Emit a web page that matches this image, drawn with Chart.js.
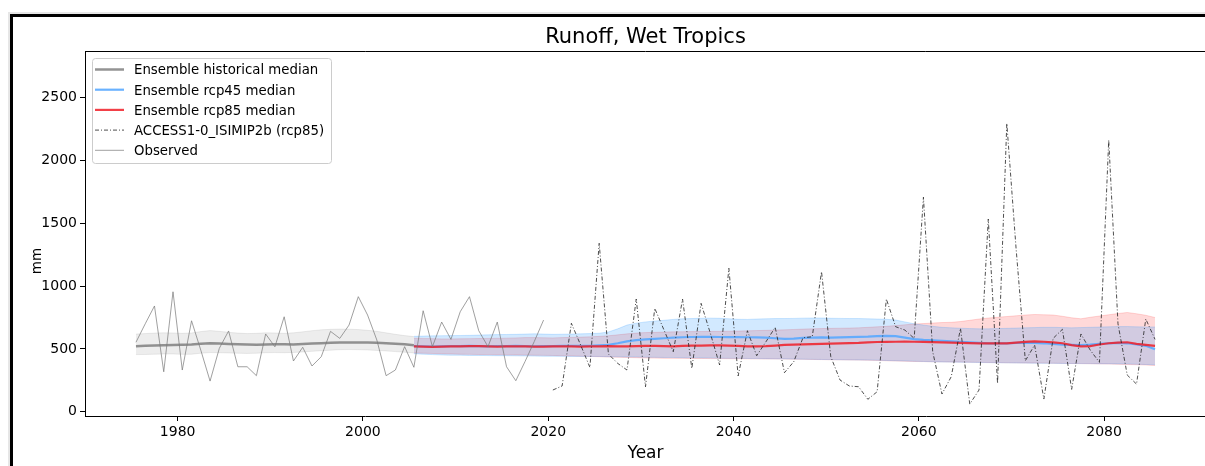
<!DOCTYPE html>
<html>
<head>
<meta charset="utf-8">
<title>Runoff, Wet Tropics</title>
<script src="https://cdn.jsdelivr.net/npm/chart.js@4.4.0/dist/chart.umd.min.js"></script>
<style>
    html, body { margin: 0; padding: 0; overflow: hidden; background: #fff; }
    canvas { display: block; }
</style>
</head>
<body>
<canvas id="runoffChart" width="1206" height="466"></canvas>
<script>
const FONT = '"DejaVu Sans", sans-serif';

// años (totales anuales, se dibujan a mitad de año)
const obsStart = 1975;
const histStart = 1975;
const rcpStart = 2005;
const accessStart = 2020;

const xTicks = [1980, 2000, 2020, 2040, 2060, 2080];
const yTicks = [0, 500, 1000, 1500, 2000, 2500];

// escorrentía observada (mm)
const observed = [
    553, 700, 842, 318, 955, 332, 724, 490, 244, 505,
    643, 358, 358, 287, 619, 517, 756, 404, 513, 364,
    438, 640, 584, 690, 916, 770, 571, 287, 332, 518,
    354, 804, 518, 714, 576, 796, 916, 645, 518, 714,
    358, 247, 400, 560, 730
];

// ensemble histórico
const histMedian = [
    522, 525, 528, 530, 532, 533, 535, 542, 546, 544,
    540, 537, 535, 534, 536, 538, 537, 536, 539, 543,
    546, 549, 551, 552, 552, 551, 549, 546, 542, 537, 530
];
const histUpper = [
    618, 622, 626, 628, 627, 624, 627, 638, 646, 640,
    632, 626, 622, 624, 628, 627, 624, 628, 636, 645,
    652, 656, 658, 657, 654, 648, 640, 628, 616, 606, 598
];
const histLower = [
    455, 456, 458, 460, 460, 457, 458, 466, 471, 470,
    468, 466, 464, 466, 470, 471, 470, 472, 476, 481,
    486, 490, 494, 495, 494, 492, 488, 484, 479, 474, 468
];

// ensemble rcp45
const rcp45Median = [
    522, 520, 518, 520, 522, 523, 524, 522, 521, 522,
    523, 524, 522, 521, 522, 523, 524, 525, 524, 525,
    528, 532, 545, 560, 570, 576, 580, 585, 590, 593,
    595, 596, 596, 595, 594, 594, 593, 592, 590, 585,
    580, 582, 588, 590, 592, 590, 592, 594, 596, 598,
    602, 604, 602, 590, 578, 572, 568, 565, 560, 556,
    552, 548, 545, 544, 545, 548, 550, 548, 545, 540,
    535, 532, 530, 534, 540, 545, 548, 545, 535, 525, 497
];
const rcp45Upper = [
    600, 602, 604, 605, 606, 607, 608, 610, 612, 614,
    615, 616, 618, 620, 618, 616, 617, 618, 620, 622,
    625, 635, 660, 690, 705, 715, 722, 728, 735, 740,
    742, 744, 745, 744, 740, 736, 735, 738, 740, 742,
    742, 743, 745, 746, 746, 744, 743, 742, 742, 740,
    738, 736, 730, 715, 700, 690, 680, 672, 668, 665,
    662, 660, 660, 662, 664, 666, 668, 670, 672, 672,
    670, 668, 670, 672, 674, 676, 678, 678, 676, 675, 675
];
const rcp45Lower = [
    462, 458, 455, 452, 450, 450, 448, 448, 447, 446,
    446, 445, 444, 443, 442, 442, 441, 440, 440, 440,
    440, 438, 437, 436, 435, 434, 433, 432, 432, 430,
    429, 428, 427, 426, 425, 425, 424, 423, 422, 421,
    420, 419, 418, 417, 416, 415, 414, 413, 412, 411,
    410, 408, 406, 404, 402, 400, 398, 396, 395, 394,
    393, 392, 391, 390, 389, 388, 387, 386, 385, 385,
    384, 384, 383, 383, 382, 382, 381, 380, 378, 376, 374
];

// ensemble rcp85
const rcp85Median = [
    520, 518, 516, 518, 520, 521, 522, 522, 520, 519,
    520, 521, 520, 518, 519, 520, 521, 520, 518, 520,
    521, 522, 520, 521, 523, 524, 524, 522, 521, 524,
    526, 527, 528, 528, 527, 524, 521, 520, 522, 527,
    532, 534, 536, 538, 540, 542, 544, 546, 548, 552,
    555, 556, 557, 558, 557, 556, 554, 552, 550, 548,
    546, 545, 544, 544, 545, 550, 556, 560, 557, 552,
    545, 530, 520, 522, 535, 545, 550, 553, 540, 532, 525
];
const rcp85Upper = [
    585, 584, 582, 580, 580, 581, 582, 583, 584, 585,
    586, 588, 590, 590, 589, 588, 590, 592, 594, 596,
    600, 605, 612, 620, 626, 630, 632, 634, 636, 637,
    638, 639, 640, 640, 641, 642, 644, 646, 648, 650,
    652, 655, 658, 660, 662, 664, 665, 666, 668, 672,
    676, 680, 686, 692, 698, 702, 706, 710, 712, 718,
    728, 738, 746, 752, 758, 764, 770, 774, 772, 770,
    760, 748, 740, 752, 762, 772, 782, 790, 780, 768, 750
];
const rcp85Lower = [
    468, 466, 464, 462, 460, 458, 457, 456, 455, 454,
    453, 452, 451, 450, 449, 448, 446, 444, 442, 440,
    438, 436, 434, 432, 430, 428, 427, 426, 425, 425,
    424, 424, 423, 423, 422, 422, 421, 421, 420, 420,
    419, 418, 417, 416, 415, 414, 413, 412, 411, 410,
    408, 406, 404, 402, 400, 399, 398, 397, 396, 395,
    394, 393, 392, 391, 390, 389, 388, 388, 387, 386,
    385, 384, 383, 382, 381, 380, 378, 376, 374, 372, 368
];

// ACCESS1-0_ISIMIP2b (rcp85)
const accessRcp85 = [
    173, 205, 704, 531, 353, 1341, 459, 385, 332, 897,
    199, 823, 650, 478, 897, 345, 863, 624, 372, 1142,
    285, 645, 446, 557, 672, 311, 398, 589, 597, 1115,
    438, 252, 205, 199, 99, 159, 897, 677, 650, 584,
    1708, 478, 141, 279, 664, 61, 173, 1534, 226, 2296,
    1300, 406, 531, 101, 584, 656, 178, 619, 491, 393,
    2163, 700, 292, 220, 738, 576
];

// convierte una serie anual en puntos {x, y} a mitad de año
function serie(inicio, valores) {
    return valores.map((v, i) => ({ x: inicio + i + 0.5, y: v }));
}

function linea(label, inicio, valores, color, ancho, orden, extra) {
    return Object.assign({
        label: label,
        data: serie(inicio, valores),
        borderColor: color,
        backgroundColor: color,
        borderWidth: ancho,
        pointRadius: 0,
        tension: 0,
        fill: false,
        order: orden
    }, extra || {});
}

// banda entre percentiles: el borde superior rellena hasta el siguiente dataset
function banda(inicio, valores, color, orden, rellenar) {
    return {
        label: '',
        data: serie(inicio, valores),
        borderColor: color,
        backgroundColor: color,
        borderWidth: 1,
        pointRadius: 0,
        tension: 0,
        fill: rellenar ? '+1' : false,
        order: orden
    };
}

// orden mayor = se dibuja antes (queda debajo)
const datasets = [
    linea('Ensemble historical median', histStart, histMedian, 'rgba(128,128,128,0.85)', 2.5, 5),
    linea('Ensemble rcp45 median', rcpStart, rcp45Median, 'rgba(90,170,255,0.9)', 2.2, 4),
    linea('Ensemble rcp85 median', rcpStart, rcp85Median, 'rgba(240,30,40,0.85)', 2.2, 3),
    linea('ACCESS1-0_ISIMIP2b (rcp85)', accessStart, accessRcp85, '#222222', 0.8, 1, { borderDash: [4, 2, 1, 2] }),
    linea('Observed', obsStart, observed, 'rgba(120,120,120,0.7)', 1, 2),
    banda(histStart, histUpper, 'rgba(128,128,128,0.14)', 10, true),
    banda(histStart, histLower, 'rgba(128,128,128,0.14)', 10, false),
    banda(rcpStart, rcp45Upper, 'rgba(30,144,255,0.2)', 8, true),
    banda(rcpStart, rcp45Lower, 'rgba(30,144,255,0.2)', 8, false),
    banda(rcpStart, rcp85Upper, 'rgba(255,0,0,0.15)', 9, true),
    banda(rcpStart, rcp85Lower, 'rgba(255,0,0,0.15)', 9, false)
];

// marco exterior de la figura, borde superior de los ejes y textos
const marcoPlugin = {
    id: 'marco',
    beforeDraw(chart) {
        const ctx = chart.ctx;
        ctx.save();
        ctx.fillStyle = '#e6e6e6';
        ctx.fillRect(8, 12, 2, chart.height);
        ctx.fillRect(8, 12, chart.width, 2);
        ctx.fillStyle = '#000';
        ctx.fillRect(10, 14, 3, chart.height);
        ctx.fillRect(10, 14, chart.width, 3);
        ctx.restore();
    },
    afterDraw(chart) {
        const { ctx, chartArea } = chart;
        ctx.save();
        ctx.strokeStyle = '#000';
        ctx.lineWidth = 1;
        ctx.beginPath();
        ctx.moveTo(chartArea.left, chartArea.top + 0.5);
        ctx.lineTo(chartArea.right, chartArea.top + 0.5);
        ctx.stroke();

        // título centrado sobre el área de los ejes
        ctx.fillStyle = '#000';
        ctx.font = '21px ' + FONT;
        ctx.textAlign = 'center';
        ctx.textBaseline = 'alphabetic';
        ctx.fillText('Runoff, Wet Tropics', (chartArea.left + chartArea.right) / 2, 43);

        // etiqueta del eje y
        ctx.translate(37, 261);
        ctx.rotate(-Math.PI / 2);
        ctx.font = '13.5px ' + FONT;
        ctx.textBaseline = 'middle';
        ctx.fillText('mm', 0, 0);
        ctx.restore();
    }
};

// leyenda dentro del área de dibujo, arriba a la izquierda
const leyendaPlugin = {
    id: 'leyenda',
    afterDraw(chart) {
        const ctx = chart.ctx;
        const items = chart.data.datasets.filter(d => d.label);
        const x0 = 92, y0 = 58, ancho = 239, alto = 105;
        ctx.save();
        ctx.fillStyle = 'rgba(255,255,255,0.8)';
        ctx.strokeStyle = '#cccccc';
        ctx.lineWidth = 1;
        ctx.beginPath();
        ctx.roundRect(x0 + 0.5, y0 + 0.5, ancho, alto, 3);
        ctx.fill();
        ctx.stroke();
        ctx.font = '13.3px ' + FONT;
        ctx.textBaseline = 'middle';
        ctx.textAlign = 'left';
        items.forEach((d, i) => {
            const y = 69.5 + i * 20.2;
            ctx.strokeStyle = d.borderColor;
            ctx.lineWidth = d.borderWidth;
            ctx.setLineDash(d.borderDash || []);
            ctx.beginPath();
            ctx.moveTo(95, y);
            ctx.lineTo(124, y);
            ctx.stroke();
            ctx.setLineDash([]);
            ctx.fillStyle = '#000';
            ctx.fillText(d.label, 134, y + 1.5);
        });
        ctx.restore();
    }
};

function inicializarGrafica() {
    const ctx = document.getElementById('runoffChart').getContext('2d');
    new Chart(ctx, {
        type: 'line',
        data: { datasets: datasets },
        options: {
            responsive: false,
            animation: false,
            layout: { padding: { top: 51, left: 0, right: 0, bottom: 0 } },
            plugins: {
                legend: { display: false },
                tooltip: { enabled: false },
                filler: { propagate: false }
            },
            scales: {
                x: {
                    type: 'linear',
                    min: 1970,
                    max: 2091,
                    afterBuildTicks: (eje) => { eje.ticks = xTicks.map(v => ({ value: v })); },
                    afterFit: (eje) => { eje.height = 50; },
                    ticks: {
                        callback: (v) => String(v),
                        autoSkip: false,
                        maxRotation: 0,
                        padding: 3,
                        color: '#000',
                        font: { family: FONT, size: 14 }
                    },
                    grid: { drawOnChartArea: false, tickLength: 5, color: '#000' },
                    border: { color: '#000', width: 1 },
                    title: {
                        display: true,
                        text: 'Year',
                        color: '#000',
                        font: { family: FONT, size: 17 },
                        padding: { top: 0, bottom: 2 }
                    }
                },
                y: {
                    type: 'linear',
                    min: -34,
                    max: 2872,
                    afterBuildTicks: (eje) => { eje.ticks = yTicks.map(v => ({ value: v })); },
                    afterFit: (eje) => { eje.width = 85; },
                    ticks: {
                        callback: (v) => String(v),
                        padding: 3,
                        color: '#000',
                        font: { family: FONT, size: 14 }
                    },
                    grid: { drawOnChartArea: false, tickLength: 5, color: '#000' },
                    border: { color: '#000', width: 1 }
                }
            }
        },
        plugins: [marcoPlugin, leyendaPlugin]
    });
}

document.addEventListener('DOMContentLoaded', inicializarGrafica);
</script>
</body>
</html>
